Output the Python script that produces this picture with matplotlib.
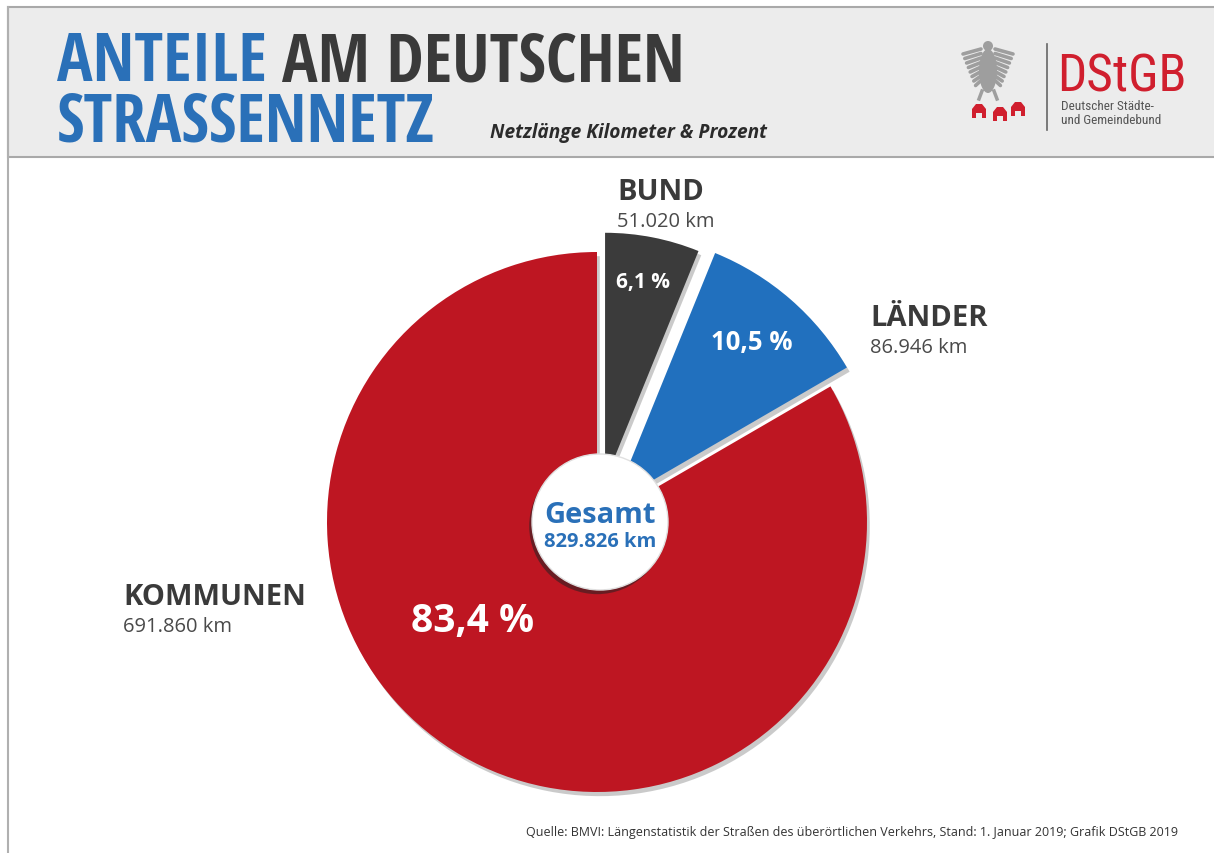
import math
import matplotlib
matplotlib.use("Agg")
import matplotlib.pyplot as plt
from matplotlib.patches import Rectangle, Circle, Polygon, Ellipse
import matplotlib.patheffects as pe

# data
categories = ["BUND", "LÄNDER", "KOMMUNEN"]
km = [51020, 86946, 691860]
total_km = 829826
colors = ["#3b3b3b", "#2170be", "#be1622"]
title_1 = ["ANTEILE", "AM DEUTSCHEN"]
title_2 = "STRASSENNETZ"
subtitle = "Netzlänge Kilometer & Prozent"
source = ("Quelle: BMVI: Längenstatistik der Straßen des überörtlichen Verkehrs, "
          "Stand: 1. Januar 2019; Grafik DStGB 2019")

W, H = 1214, 854
plt.rcParams['font.family'] = ['Open Sans', 'DejaVu Sans']
COND = ['Open Sans Condensed', 'Open Sans', 'DejaVu Sans']


def Y(y):
    # picture rows run downwards, axes upwards
    return H - y


def de_num(n):
    return f"{n:,}".replace(",", ".")


def de_pct(v):
    return f"{v:.1f} %".replace(".", ",")


fig = plt.figure(figsize=(W / 100, H / 100), dpi=100)
ax = fig.add_axes([0, 0, 1, 1])

# pie
center = (597, Y(523))
wedges, _ = ax.pie(km, colors=colors, startangle=90, counterclock=False,
                   center=center, radius=270,
                   wedgeprops=dict(linewidth=0))
shift = [42, 25, 0]
radii = [248, 270, 270]
for w, d, r in zip(wedges, shift, radii):
    mid = math.radians((w.theta1 + w.theta2) / 2)
    w.set_center((center[0] + d * math.cos(mid), center[1] + d * math.sin(mid)))
    w.set_radius(r)
    w.set_path_effects([pe.SimplePatchShadow(offset=(2, -3), shadow_rgbFace="#a0a0a0", alpha=0.55),
                        pe.Normal()])

ax.set_xlim(0, W)
ax.set_ylim(0, H)
ax.axis("off")

# header band
ax.add_patch(Rectangle((8, Y(158)), W, 150, facecolor="#ececec",
                       edgecolor="#a9a9a9", linewidth=1.5, zorder=1))
ax.plot([8, 8], [0, Y(8)], color="#b0b0b0", lw=1.5, zorder=2)

fig.canvas.draw()
rend = fig.canvas.get_renderer()
t1 = ax.text(57, Y(81), title_1[0], color="#2a70b8", fontsize=48, fontweight="bold",
             family=COND, fontstretch="condensed", zorder=3)
bb = t1.get_window_extent(rend)
x_next = ax.transData.inverted().transform((bb.x1, bb.y0))[0] + 15
ax.text(x_next, Y(81), title_1[1], color="#3a3a3a", fontsize=48, fontweight="bold",
        family=COND, fontstretch="condensed", zorder=3)
ax.text(57, Y(142), title_2, color="#2a70b8", fontsize=48, fontweight="bold",
        family=COND, fontstretch="condensed", zorder=3)
ax.text(490, Y(138), subtitle, color="#2b2b2b", fontsize=13.8, fontweight="bold",
        style="italic", zorder=3)

# logo
ax.plot([1047, 1047], [Y(45), Y(131)], color="#666666", lw=1.2, zorder=3)
ax.text(1057, Y(91), "DStGB", color="#d01f2e", fontsize=37,
        family=['Roboto Condensed'] + COND, fontstretch="condensed", zorder=3)
ax.text(1061, Y(110), "Deutscher Städte-", color="#555555", fontsize=9.5,
        family=['Roboto Condensed'] + COND, zorder=3)
ax.text(1061, Y(124), "und Gemeindebund", color="#555555", fontsize=9.5,
        family=['Roboto Condensed'] + COND, zorder=3)
# eagle, very roughly: head, body and feathered wings
ax.add_patch(Circle((988, Y(47)), 5, facecolor="#9e9e9e", edgecolor="none", zorder=3))
ax.add_patch(Ellipse((988, Y(72)), 18, 44, facecolor="#9e9e9e", edgecolor="none", zorder=3))
for k in range(8):
    yy = 50 + k * 4.5
    ax.plot([981, 963 + k * 1.8], [Y(yy), Y(yy + 5)], color="#9e9e9e", lw=2.6,
            solid_capstyle="round", zorder=3)
    ax.plot([995, 1013 - k * 1.8], [Y(yy), Y(yy + 5)], color="#9e9e9e", lw=2.6,
            solid_capstyle="round", zorder=3)
ax.plot([982, 979], [Y(92), Y(100)], color="#9e9e9e", lw=2.5, zorder=3)
ax.plot([994, 997], [Y(92), Y(100)], color="#9e9e9e", lw=2.5, zorder=3)
for cx, top, bot in ((979, 105, 119), (1000, 108, 122), (1018, 103, 117)):
    ax.add_patch(Polygon([(cx - 7, Y(bot)), (cx - 7, Y(top + 5)), (cx - 3, Y(top)),
                          (cx + 3, Y(top)), (cx + 7, Y(top + 5)), (cx + 7, Y(bot)),
                          (cx + 3, Y(bot)), (cx + 3, Y(bot - 5)), (cx - 3, Y(bot - 5)),
                          (cx - 3, Y(bot))],
                         closed=True, facecolor="#d01f2e", edgecolor="none", zorder=3))

# centre disc
disc = Circle((600, Y(523)), 68, facecolor="white", edgecolor="#e0e0e0", lw=1, zorder=5)
disc.set_path_effects([pe.SimplePatchShadow(offset=(-2, -3), shadow_rgbFace="#222222", alpha=0.55),
                       pe.Normal()])
ax.add_patch(disc)
ax.text(600, Y(523), "Gesamt", color="#2a70b8", fontsize=21, fontweight="bold",
        ha="center", va="baseline", zorder=6)
ax.text(600, Y(547), de_num(total_km) + " km", color="#2a70b8", fontsize=14.5,
        fontweight="bold", ha="center", va="baseline", zorder=6)

# percentages inside slices
pct = [v / total_km * 100 for v in km]
pct_pos = [(643, 288), (752, 350), (473, 632)]
pct_size = [15, 18.5, 28]
for p, (x, y), s in zip(pct, pct_pos, pct_size):
    ax.text(x, Y(y), de_pct(p), color="white", fontsize=s, fontweight="bold",
            ha="center", va="baseline", zorder=6)

# category labels
lab_pos = [(617, 200), (870, 326), (123, 605)]
for c, v, (x, y) in zip(categories, km, lab_pos):
    ax.text(x, Y(y), c, color="#3a3a3a", fontsize=21, fontweight="bold", zorder=6)
    ax.text(x, Y(y + 27), de_num(v) + " km", color="#4a4a4a", fontsize=14.5, zorder=6)

ax.text(1178, Y(836), source, color="#333333", fontsize=9, ha="right")

fig.savefig("out.png", dpi=100)
